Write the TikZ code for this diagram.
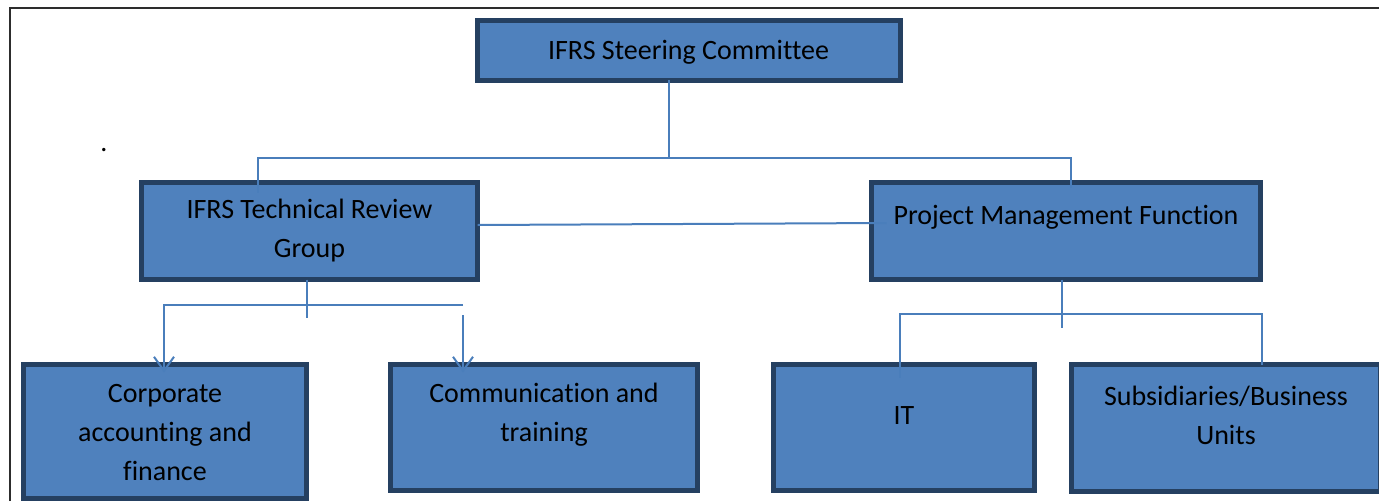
\documentclass[tikz,border=0pt]{standalone}
\usepackage{fontspec}
\setmainfont{Carlito}[Ligatures=NoCommon]
\usetikzlibrary{arrows.meta,calc}

\definecolor{boxfill}{RGB}{79,129,189}
\definecolor{boxline}{RGB}{37,64,97}
\definecolor{linkblue}{RGB}{74,126,187}
\definecolor{framegray}{RGB}{45,45,45}

\tikzset{
  orgbox/.style={draw=boxline, fill=boxfill, line width=5pt, anchor=north west,
    inner sep=0pt, outer sep=0pt},
  lbl/.style={align=center, inner sep=0pt, font=\fontsize{28}{39}\selectfont},
  link/.style={draw=linkblue, line width=2pt},
  tip/.style={-{Straight Barb[length=14pt,width=20pt,line width=2pt]}}
}

\begin{document}
\begin{tikzpicture}
\pgfsetxvec{\pgfpoint{1pt}{0}}
\pgfsetyvec{\pgfpoint{0}{-1pt}}
  \useasboundingbox (0,0) rectangle (1379,501);
  \draw[line width=2pt, framegray] (10,501) -- (10,8) -- (1379,8);

  % boxes
  \node[orgbox, minimum width=423, minimum height=60] (steer) at (477,20) {};
  \node[orgbox, minimum width=336, minimum height=97] (tech) at (141.5,182.5) {};
  \node[orgbox, minimum width=389, minimum height=97] (pmf) at (871.5,182.5) {};
  \node[orgbox, minimum width=283, minimum height=134] (corp) at (23.5,364.5) {};
  \node[orgbox, minimum width=307, minimum height=126] (comm) at (390.5,364.5) {};
  \node[orgbox, minimum width=261, minimum height=126] (it) at (773.5,364.5) {};
  \node[orgbox, minimum width=309, minimum height=127] (subs) at (1071.5,364.5) {};

  % texts
  \node[lbl] (steer-t) at ([yshift=-2pt]steer.center) {IFRS Steering Committee};
  \node[lbl] (tech-t) at (tech.center) {IFRS Technical Review\\Group};
  \node[lbl] (pmf-t) at ([yshift=14pt]pmf.center) {Project Management Function};
  \node[lbl] (corp-t) at ([yshift=-1pt]corp.center) {Corporate\\accounting and\\finance};
  \node[lbl] (comm-t) at ([yshift=13pt]comm.center) {Communication and\\training};
  \node[lbl] (it-t) at ([yshift=12pt]it.center) {IT};
  \node[lbl] (subs-t) at ([yshift=13pt]subs.center) {Subsidiaries/Business\\Units};
  \node[lbl] (dot) at (104,150) {.};

  % upper level
  \coordinate (top) at (669,158);
  \coordinate (busL) at (258,158);
  \coordinate (busR) at (1071,158);
  \draw[link] (steer.south -| top) -- (top);
  \draw[link] ($(tech.north -| busL)+(0,10)$) -- (busL) -- (busR) -- ($(pmf.north -| busR)+(0,5)$);
  \draw[link] ($(tech.east)+(0,-6)$) -- ($(pmf.west)+(15,-8)$);

  % under the review group
  \coordinate (stemA) at (307,318);
  \coordinate (fork1) at (164,305);
  \coordinate (fork2) at (463,305);
  \draw[link] (tech.south -| stemA) -- (stemA);
  \draw[link,tip] (fork2) -- (fork1) -- ($(corp.north -| fork1)+(0,8)$);
  \draw[link,tip] ($(fork2)+(0,10)$) -- ($(comm.north -| fork2)+(0,8)$);

  % under project management
  \coordinate (stemB) at (1062,328);
  \coordinate (fork3) at (900,314);
  \coordinate (fork4) at (1262,314);
  \draw[link] (pmf.south -| stemB) -- (stemB);
  \draw[link] ($(it.north -| fork3)+(0,13)$) -- (fork3) -- (fork4) -- (subs.north -| fork4);
\end{tikzpicture}
\end{document}
